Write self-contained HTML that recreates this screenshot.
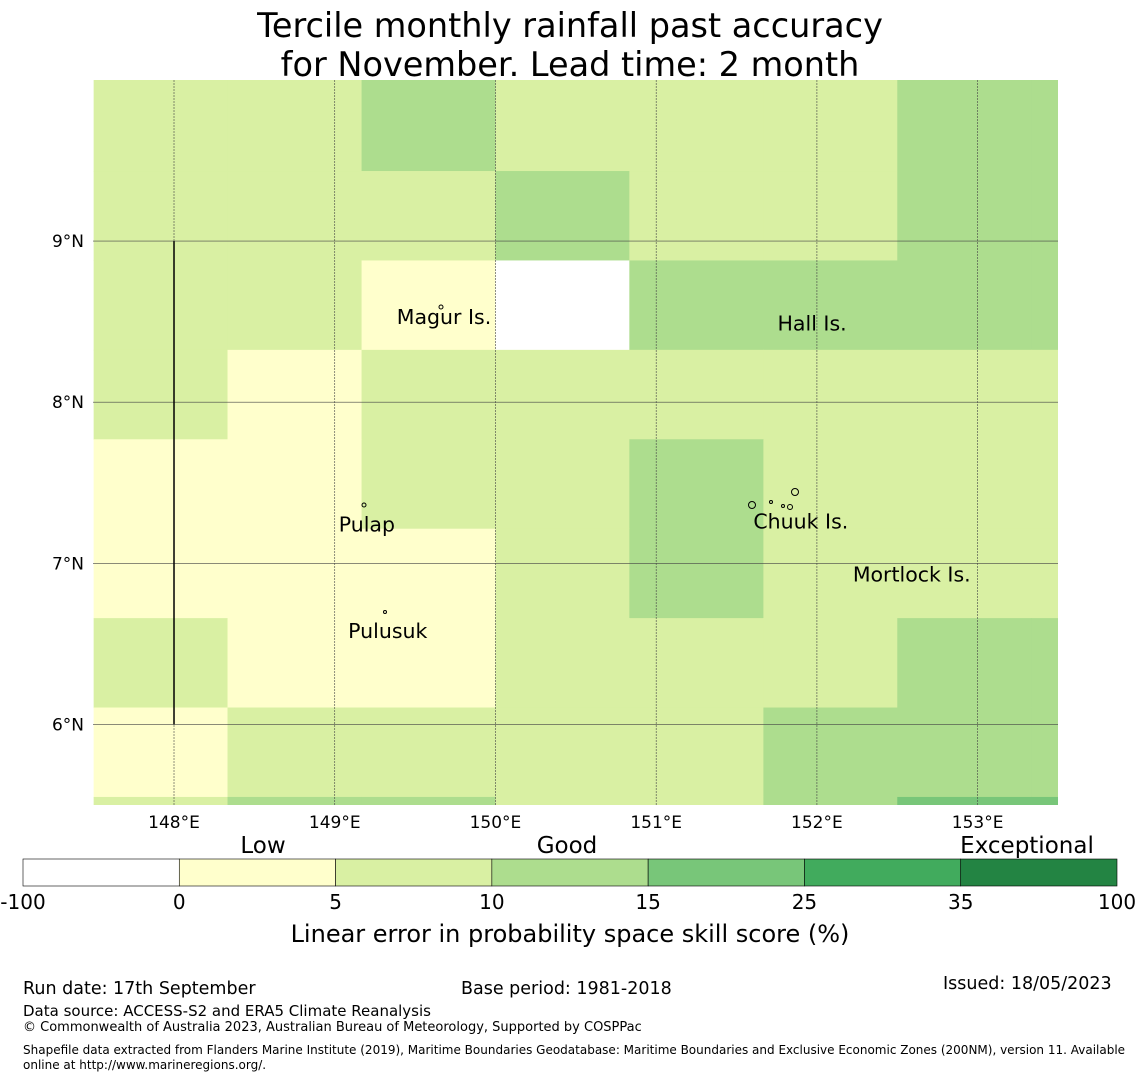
<!DOCTYPE html>
<html><head><meta charset="utf-8"><style>
body{margin:0;background:#fff;}
svg text{font-family:"DejaVu Sans","Liberation Sans",sans-serif;}
</style></head><body>
<svg id="s" width="1140" height="1080" xmlns="http://www.w3.org/2000/svg">
<text x="570" y="37" font-size="33.5" text-anchor="middle">Tercile monthly rainfall past accuracy</text>
<text x="570" y="76" font-size="33.5" text-anchor="middle">for November. Lead time: 2 month</text>
<g id="map"></g>
<g id="cbar"></g>
<text x="23" y="994" font-size="17.5">Run date: 17th September</text>
<text x="461" y="994" font-size="17.5">Base period: 1981-2018</text>
<text x="943" y="989" font-size="17.5">Issued: 18/05/2023</text>
<text x="23" y="1016" font-size="15">Data source: ACCESS-S2 and ERA5 Climate Reanalysis</text>
<text x="23" y="1031" font-size="13">© Commonwealth of Australia 2023, Australian Bureau of Meteorology, Supported by COSPPac</text>
<text x="23" y="1054" font-size="12">Shapefile data extracted from Flanders Marine Institute (2019), Maritime Boundaries Geodatabase: Maritime Boundaries and Exclusive Economic Zones (200NM), version 11. Available</text>
<text x="23" y="1069" font-size="12">online at http://www.marineregions.org/.</text>
</svg>
<script>
// data
const bins = [-100, 0, 5, 10, 15, 25, 35, 100];
const binColors = ["#ffffff","#ffffcc","#d9f0a3","#addd8e","#78c679","#41ab5d","#238443"];
const lonTicks = [148,149,150,151,152,153];
const latTicks = [9,8,7,6];
const cellLonEdges = [147.5,148.333,149.167,150.0,150.833,151.667,152.5,153.333,154.167];
const cellLatTops = [10.0,9.435,8.88,8.325,7.77,7.215,6.66,6.105,5.55];
const skill = [
 [7,7,12,7,7,7,12,12],
 [7,7,7,12,7,7,12,12],
 [7,7,2,-10,12,12,12,12],
 [7,2,7,7,7,7,7,7],
 [2,2,7,7,12,7,7,7],
 [2,2,2,7,12,7,7,7],
 [7,2,2,7,7,7,12,12],
 [2,7,7,7,7,12,12,12],
 [7,12,12,7,7,12,18,18]
];
const islands = [
 {name:"Magur Is.", lon:149.68, lat:8.53},
 {name:"Hall Is.", lon:151.97, lat:8.49},
 {name:"Pulap", lon:149.2, lat:7.24},
 {name:"Chuuk Is.", lon:151.9, lat:7.26},
 {name:"Mortlock Is.", lon:152.59, lat:6.93},
 {name:"Pulusuk", lon:149.33, lat:6.58}
];
const cbLabels = ["-100","0","5","10","15","25","35","100"];

const NS="http://www.w3.org/2000/svg";
const X0=93,X1=1058,Y0=80,Y1=805;
const lonMin=147.496, lonMax=153.5, latMin=5.5, latMax=10.0;
const xs = lon => X0+(lon-lonMin)/(lonMax-lonMin)*(X1-X0);
const ys = lat => Y0+(latMax-lat)/(latMax-latMin)*(Y1-Y0);
function mk(tag,attrs,parent){const e=document.createElementNS(NS,tag);for(const k in attrs)e.setAttribute(k,attrs[k]);parent.appendChild(e);return e;}
function color(v){for(let i=0;i<binColors.length;i++){if(v<bins[i+1])return binColors[i];}return binColors[binColors.length-1];}
const map=document.getElementById('map');
const defs=mk('defs',{},map);
const cp=mk('clipPath',{id:'clip'},defs);
mk('rect',{x:X0,y:Y0,width:X1-X0,height:Y1-Y0},cp);
const cells=mk('g',{'clip-path':'url(#clip)'},map);


skill.forEach((row,r)=>row.forEach((v,c)=>{
  const x=xs(cellLonEdges[c]),x2=xs(cellLonEdges[c+1]);
  const y=ys(cellLatTops[r]);
  const y2= r+1<cellLatTops.length ? ys(cellLatTops[r+1]) : ys(latMin-0.1);
  const e=mk('rect',{x:x,y:y,width:x2-x+0.6,height:y2-y+0.6,fill:color(v)},cells);
  
  
}));
lonTicks.forEach(l=>{
  const e=mk('line',{x1:xs(l),x2:xs(l),y1:Y0,y2:Y1,stroke:'#444','stroke-width':0.6,'stroke-dasharray':'2,1'},map);
  
  
  const t=mk('text',{x:xs(l),y:828,'font-size':17,'text-anchor':'middle'},map);t.textContent=l+'°E';
  
  
});
latTicks.forEach(l=>{
  const e=mk('line',{x1:X0,x2:X1,y1:ys(l),y2:ys(l),stroke:'#444','stroke-width':0.6},map);
  
  
  const t=mk('text',{x:84,y:ys(l)+6,'font-size':17,'text-anchor':'end'},map);t.textContent=l+'°N';
  
  
});
const bl=mk('line',{x1:xs(148),x2:xs(148),y1:ys(9),y2:ys(6),stroke:'#000','stroke-width':1.5},map);


islands.forEach(is=>{
  const t=mk('text',{x:xs(is.lon),y:ys(is.lat)+7,'font-size':20.5,'text-anchor':'middle'},map);t.textContent=is.name;
  
  
});
[[441,307,2],[364,505,2],[385,612,1.5],[795,492,3.5],[790,507,2.5],[752,505,3.5],[771,502,1.5],[783,506,1.5]].forEach(p=>{
  const e=mk('circle',{cx:p[0],cy:p[1],r:p[2],fill:'none',stroke:'#000','stroke-width':1},map);
  
  
});
// colorbar
const cb=document.getElementById('cbar');
const CX0=23,CX1=1117,CY=859,CH=27,n=binColors.length,w=(CX1-CX0)/n;
binColors.forEach((c,i)=>{
  const e=mk('rect',{x:CX0+i*w,y:CY,width:w,height:CH,fill:c,stroke:'#000','stroke-width':0.6},cb);
  
  
});
cbLabels.forEach((l,i)=>{
  const t=mk('text',{x:CX0+i*w,y:909,'font-size':20,'text-anchor':'middle'},cb);t.textContent=l;
  
  
});
[["Low",263],["Good",567],["Exceptional",1027]].forEach(a=>{
  const t=mk('text',{x:a[1],y:853,'font-size':23,'text-anchor':'middle'},cb);t.textContent=a[0];
  
  
});
const ct=mk('text',{x:570,y:942,'font-size':24,'text-anchor':'middle'},cb);ct.textContent='Linear error in probability space skill score (%)';


</script>
</body></html>
